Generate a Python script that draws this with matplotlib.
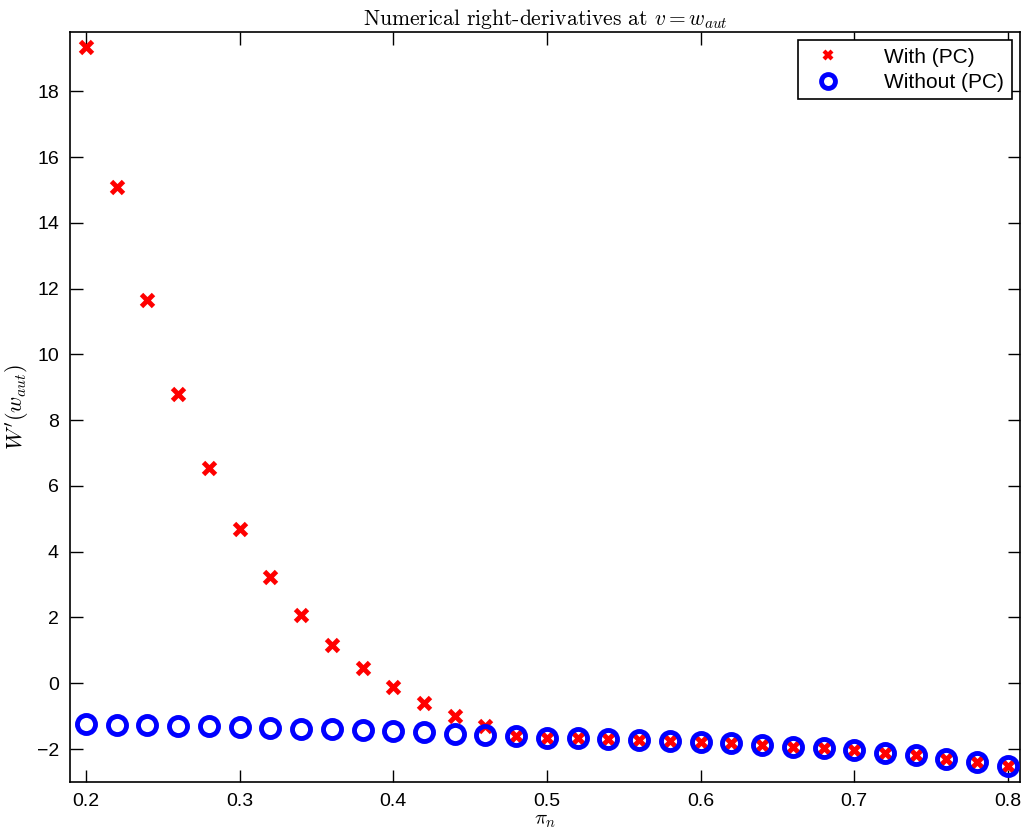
"""
Numerical right-derivatives at v = w_aut, with and without (PC).
"""
import matplotlib
matplotlib.use("Agg")
import matplotlib.pyplot as plt
import numpy as np

PI_N = np.round(np.arange(0.20, 0.8001, 0.02), 2)

WITH_PC = [19.33, 15.08, 11.64, 8.81, 6.53, 4.68, 3.22, 2.07, 1.16, 0.46,
           -0.12, -0.61, -1.00, -1.31, -1.61, -1.65, -1.67, -1.70, -1.72, -1.75,
           -1.78, -1.83, -1.88, -1.94, -1.98, -2.04, -2.11, -2.19, -2.29, -2.39,
           -2.52]
WITHOUT_PC = [-1.25, -1.27, -1.28, -1.29, -1.31, -1.33, -1.35, -1.38, -1.40, -1.43,
              -1.46, -1.49, -1.53, -1.57, -1.61, -1.65, -1.67, -1.70, -1.72, -1.75,
              -1.78, -1.83, -1.88, -1.94, -1.98, -2.04, -2.11, -2.19, -2.29, -2.39,
              -2.52]

X_TICKS = [0.2, 0.3, 0.4, 0.5, 0.6, 0.7, 0.8]
Y_TICKS = [-2, 0, 2, 4, 6, 8, 10, 12, 14, 16, 18]

plt.rcParams["font.family"] = ["Liberation Sans", "DejaVu Sans"]
plt.rcParams["mathtext.fontset"] = "cm"

fig = plt.figure(figsize=(10.25, 8.34), dpi=100)
ax = fig.add_axes([0.0683, 0.0624, 0.9267, 0.8992])

ax.plot(PI_N, WITH_PC, linestyle="none", marker="x", color="red",
        markersize=8, markeredgewidth=3.5, label="With (PC)", zorder=2)
ax.plot(PI_N, WITHOUT_PC, linestyle="none", marker="o", markerfacecolor="none",
        markeredgecolor="blue", markersize=13, markeredgewidth=3.5,
        label="Without (PC)", zorder=3)

ax.set_xlim(0.1896, 0.8078)
ax.set_ylim(-3.0, 19.8)
ax.set_xticks(X_TICKS)
ax.set_xticklabels([f"{t:g}" for t in X_TICKS])
ax.set_yticks(Y_TICKS)
ax.tick_params(direction="in", top=True, right=True, length=9, width=1,
               labelsize=14, pad=8)
for sp in ax.spines.values():
    sp.set_linewidth(1.2)

ax.set_title(r"Numerical right-derivatives at $v = w_{aut}$", fontsize=15.5,
             family="cmr10", pad=5)
ax.set_xlabel(r"$\pi_n$", fontsize=15, labelpad=1)
ax.set_ylabel(r"$W'(w_{aut})$", fontsize=16, labelpad=4)

leg = ax.legend(loc="upper right", fontsize=15, fancybox=False, framealpha=1,
                edgecolor="black", borderaxespad=0.4, handletextpad=1.6,
                handlelength=2.2, labelspacing=0.3, borderpad=0.35)
leg.get_frame().set_linewidth(1.2)
h_with, h_without = leg.legend_handles
h_with.set_markersize(6)
h_with.set_markeredgewidth(3)
h_without.set_markersize(10)
h_without.set_markeredgewidth(3.5)

fig.savefig("out.png", dpi=100)
